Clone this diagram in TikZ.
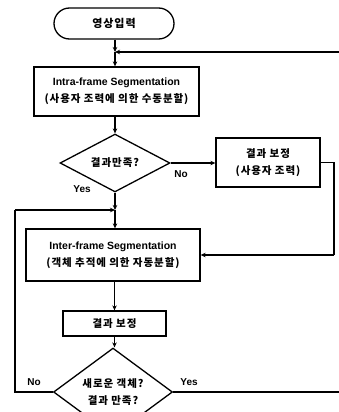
\documentclass[tikz,border=0pt]{standalone}
\usepackage{fontspec}
\setmainfont{Liberation Sans}
\newfontfamily\kr[LetterSpace=9]{Noto Sans CJK KR}
\usetikzlibrary{shapes.geometric,shapes.misc,arrows.meta}
\begin{document}
\begin{tikzpicture}[x=1pt,y=-1pt,
  box/.style={draw,line width=1.3pt,inner sep=0pt,align=center,font=\fontsize{10.5}{17}\selectfont\bfseries},
  startbox/.style={draw,line width=1.3pt,rounded rectangle,inner sep=0pt,minimum width=120pt,minimum height=31pt,font=\fontsize{11}{12}\selectfont\bfseries\kr},
  dec/.style={draw,line width=1.3pt,diamond,inner sep=0pt,align=center,font=\fontsize{10.5}{17}\selectfont\bfseries\kr},
  conn/.style={line width=1.7pt},
  arr/.style={line width=1.7pt,-{Stealth[length=5pt,width=4.5pt]}},
  lab/.style={font=\fontsize{10}{11}\selectfont\bfseries}
]
\useasboundingbox (0,0) rectangle (339,412);
\fill[white] (0,0) rectangle (339,412);

\node[startbox] (start) at (114,23.5) {영상입력};
\coordinate (j1) at (115,52);
\coordinate (e1) at (339,52);
\node[box,minimum width=165pt,minimum height=49pt] (intra) at (116.5,91.5)
  {Intra-frame Segmentation\\{\kr (사용자 조력에 의한 수동분할)}};
\node[dec,minimum width=110pt,minimum height=40pt] (d1) at (115,163) {결과만족?};
\node[box,minimum width=104pt,minimum height=49pt] (fix1) at (268,162.5)
  {{\kr 결과 보정}\\{\kr (사용자 조력)}};
\coordinate (j2) at (115,210);
\node[box,minimum width=174pt,minimum height=52pt] (inter) at (113,255)
  {Inter-frame Segmentation\\{\kr (객체 추적에 의한 자동분할)}};
\node[box,minimum width=103pt,minimum height=25pt] (fix2) at (114.5,323.5) {\kr 결과 보정};
\node[dec,minimum width=119pt,minimum height=60pt] (d2) at (113,392)
  {새로운 객체?\\결과 만족?};
\coordinate (e2) at (339,392);
\coordinate (l1) at (15,392);
\coordinate (l2) at (15,210);
\coordinate (r1) at (334,162.5);
\coordinate (r2) at (334,255);

% connectors
\draw[arr] (start.south -| j1) -- (j1);
\draw[arr] (j1) -- (intra.north -| j1);
\draw[arr] (e1) -- (j1);
\draw[arr] (intra.south -| d1.north) -- (d1.north);
\draw[arr] (d1.east) -- (fix1.west |- d1.east);
\draw[conn] (fix1.east) -- (r1) -- (r2);
\draw[arr] (r2) -- (inter.east |- r2);
\draw[arr] (d1.south) -- (j2);
\draw[arr] (j2) -- (inter.north -| j2);
\draw[arr] (inter.south -| fix2.north) -- (fix2.north);
\draw[arr] (fix2.south) -- (d2.north -| fix2.south);
\draw[conn] (d2.west) -- (l1) -- (l2);
\draw[arr] (l2) -- (j2);
\draw[conn] (d2.east) -- (e2);

% labels
\node[lab] (no1) at (181,174) {No};
\node[lab] (yes1) at (82,189) {Yes};
\node[lab] (no2) at (34,382) {No};
\node[lab] (yes2) at (189,382) {Yes};
\end{tikzpicture}
\end{document}
